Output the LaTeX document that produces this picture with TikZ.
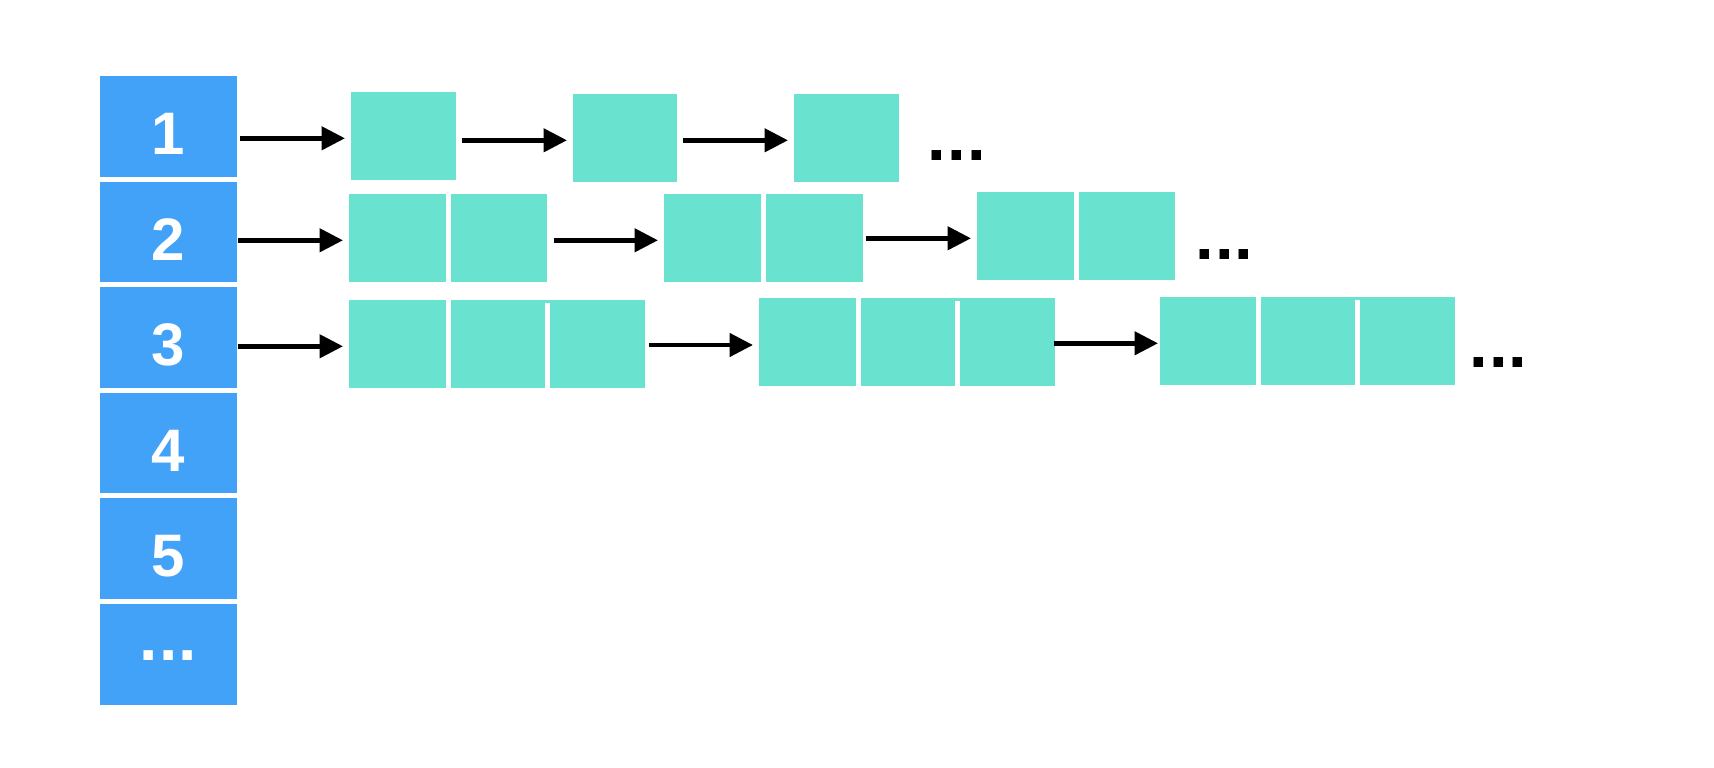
\documentclass[tikz,border=0pt]{standalone}
\usepackage{fontspec}
\setmainfont{Liberation Sans}
\usetikzlibrary{arrows.meta,calc}
\definecolor{hashblue}{RGB}{66,162,248}
\definecolor{entryteal}{RGB}{105,227,207}
\newcommand{\threedots}{.\kern1.1pt.\kern1.1pt.}
\begin{document}
\begin{tikzpicture}[x=1pt,y=-1pt,
  bucket/.style={fill=hashblue, draw=none, inner sep=0pt, outer sep=0pt,
    minimum width=137pt, minimum height=100.6pt, anchor=north west, text=white,
    font=\fontsize{60pt}{72pt}\selectfont\bfseries, text height=57pt},
  entry/.style={fill=entryteal, draw=none, inner sep=0pt, outer sep=0pt,
    anchor=north west, minimum height=88pt},
  arr/.style={line width=4.7pt, -{Triangle[length=23.5pt,width=23pt]}},
  dotstext/.style={font=\fontsize{67pt}{80pt}\selectfont\bfseries, inner sep=0pt, anchor=base}]
\fill[white] (0,0) rectangle (1714,768);
\useasboundingbox (0,0) rectangle (1714,768);
% buckets
\node[bucket] (b1) at (100,76) {1};
\node[bucket] (b2) at (100,181.6) {2};
\node[bucket] (b3) at (100,287.2) {3};
\node[bucket] (b4) at (100,392.8) {4};
\node[bucket] (b5) at (100,498.4) {5};
\node[bucket, text height=13.2pt, font=\fontsize{66pt}{80pt}\selectfont\bfseries] (b6) at (100,604) {\threedots};
% row 1
\node[entry, minimum width=105pt] (r1a) at (351,92) {};
\node[entry, minimum width=104pt] (r1b) at (573,94.3) {};
\node[entry, minimum width=105pt] (r1c) at (794,94.3) {};
% row 2
\node[entry, minimum width=97pt] (r2a) at (349,194) {};
\node[entry, minimum width=96pt] (r2b) at (451,194) {};
\node[entry, minimum width=97pt] (r2c) at (664,194) {};
\node[entry, minimum width=97pt] (r2d) at (766,194) {};
\node[entry, minimum width=97pt] (r2e) at (977,192) {};
\node[entry, minimum width=96pt] (r2f) at (1079,192) {};
% row 3
\node[entry, minimum width=97pt] (r3a) at (349,300) {};
\node[entry, minimum width=94pt] (r3b) at (451,300) {};
\node[entry, minimum width=95pt] (r3c) at (550,300) {};
\fill[entryteal] (545,300) rectangle (550,302.5);
\node[entry, minimum width=97pt] (r3d) at (759,298) {};
\node[entry, minimum width=94pt] (r3e) at (861,298) {};
\node[entry, minimum width=95pt] (r3f) at (960,298) {};
\fill[entryteal] (955,298) rectangle (960,300.5);
\node[entry, minimum width=96pt] (r3g) at (1160,297) {};
\node[entry, minimum width=94pt] (r3h) at (1261,297) {};
\node[entry, minimum width=95pt] (r3i) at (1360,297) {};
\fill[entryteal] (1355,297) rectangle (1360,299.5);
% arrows row 1
\draw[arr] ($(b1.east |- r1a.west)+(3,2.3)$) -- ($(r1a.west)+(-6,2.3)$);
\draw[arr] ($(r1a.east |- r1b.west)+(6,2)$) -- ($(r1b.west)+(-6,2)$);
\draw[arr] ($(r1b.east)+(6,2)$) -- ($(r1c.west)+(-6,2)$);
% arrows row 2
\draw[arr] ($(b2.east |- r2a.west)+(1,2.3)$) -- ($(r2a.west)+(-6,2.3)$);
\draw[arr] ($(r2b.east)+(7,2.3)$) -- ($(r2c.west)+(-6,2.3)$);
\draw[arr] ($(r2d.east |- r2e.west)+(3,2.3)$) -- ($(r2e.west)+(-6,2.3)$);
% arrows row 3
\draw[arr] ($(b3.east |- r3a.west)+(1,2.3)$) -- ($(r3a.west)+(-6,2.3)$);
\draw[arr] ($(r3c.east |- r3d.west)+(4,3)$) -- ($(r3d.west)+(-6,3)$);
\draw[arr] ($(r3f.east |- r3g.west)+(-1,2.3)$) -- ($(r3g.west)+(-2,2.3)$);
% continuation dots
\node[dotstext] (d1) at (957,160) {\threedots};
\node[dotstext] (d2) at (1224.5,259) {\threedots};
\node[dotstext] (d3) at (1498.5,367.7) {\threedots};
\end{tikzpicture}
\end{document}
